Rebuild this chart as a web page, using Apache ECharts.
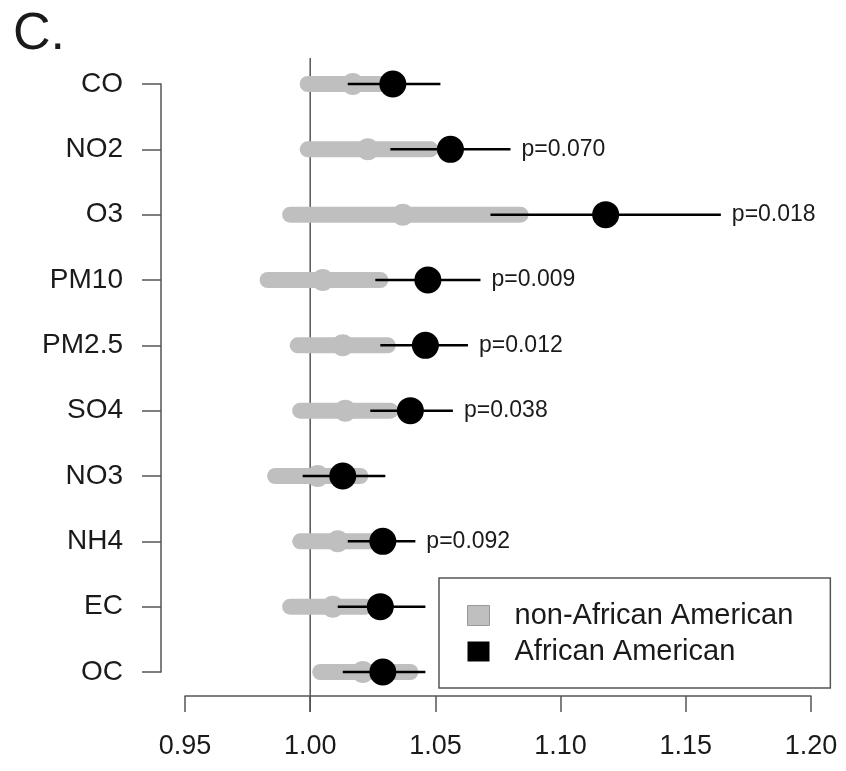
<!DOCTYPE html>
<html>
<head>
<meta charset="utf-8">
<script src="https://cdn.jsdelivr.net/npm/echarts@6/dist/echarts.min.js"></script>
<style>
  html, body { margin: 0; padding: 0; background: #fff; }
  #main { width: 846px; height: 771px; }
</style>
</head>
<body>
<div id="main"></div>
<script>
var categories = ['CO', 'NO2', 'O3', 'PM10', 'PM2.5', 'SO4', 'NO3', 'NH4', 'EC', 'OC'];
var xTicks = [0.95, 1.00, 1.05, 1.10, 1.15, 1.20];

// non-African American: estimate and CI
var nonAAEst  = [1.017, 1.023, 1.037, 1.005, 1.013, 1.014, 1.003, 1.011, 1.009, 1.021];
var nonAALow  = [0.999, 0.999, 0.992, 0.983, 0.995, 0.996, 0.986, 0.996, 0.992, 1.004];
var nonAAHigh = [1.029, 1.048, 1.084, 1.028, 1.031, 1.032, 1.020, 1.029, 1.022, 1.040];

// African American: estimate and CI
var aaEst  = [1.033, 1.056, 1.118, 1.047, 1.046, 1.040, 1.013, 1.029, 1.028, 1.029];
var aaLow  = [1.015, 1.032, 1.072, 1.026, 1.028, 1.024, 0.997, 1.015, 1.011, 1.013];
var aaHigh = [1.052, 1.080, 1.164, 1.068, 1.063, 1.057, 1.030, 1.042, 1.046, 1.046];

var pLabels = ['', 'p=0.070', 'p=0.018', 'p=0.009', 'p=0.012', 'p=0.038', '', 'p=0.092', '', ''];

var refValue = 1.00;

var FONT = '"Liberation Sans", Arial, sans-serif';
var GREY = '#bfbfbf';
var AXIS = '#555';

var greyData = categories.map(function (c, i) {
    return [i, nonAALow[i], nonAAEst[i], nonAAHigh[i]];
});
var blackData = categories.map(function (c, i) {
    return [i, aaLow[i], aaEst[i], aaHigh[i], pLabels[i]];
});

function renderGrey(params, api) {
    var i = api.value(0);
    var lo = api.coord([api.value(1), i]);
    var est = api.coord([api.value(2), i]);
    var hi = api.coord([api.value(3), i]);
    return {
        type: 'group',
        children: [{
            type: 'line',
            shape: { x1: lo[0], y1: lo[1], x2: hi[0], y2: hi[1] },
            style: { stroke: GREY, lineWidth: 16, lineCap: 'round' }
        }, {
            type: 'circle',
            shape: { cx: est[0], cy: est[1], r: 11 },
            style: { fill: GREY }
        }]
    };
}

function renderBlack(params, api) {
    var i = api.value(0);
    var lo = api.coord([api.value(1), i]);
    var est = api.coord([api.value(2), i]);
    var hi = api.coord([api.value(3), i]);
    var label = blackData[params.dataIndex][4];
    var children = [{
        type: 'line',
        shape: { x1: lo[0], y1: lo[1], x2: hi[0], y2: hi[1] },
        style: { stroke: '#000', lineWidth: 2.5 }
    }, {
        type: 'circle',
        shape: { cx: est[0], cy: est[1], r: 13.5 },
        style: { fill: '#000' }
    }];
    if (label) {
        children.push({
            type: 'text',
            x: hi[0] + 11,
            y: hi[1],
            style: {
                text: label,
                fill: '#1a1a1a',
                font: '23px ' + FONT,
                verticalAlign: 'middle',
                align: 'left'
            }
        });
    }
    return { type: 'group', children: children };
}

// vertical reference line at 1.00, running a bit past both ends of the plot
function renderRef(params, api) {
    var p = api.coord([api.value(0), 0]);
    var cs = params.coordSys;
    return {
        type: 'line',
        shape: { x1: p[0], y1: cs.y - 26, x2: p[0], y2: cs.y + cs.height + 40 },
        style: { stroke: AXIS, lineWidth: 1.5 }
    };
}

var myChart = echarts.init(document.getElementById('main'));

option = {
    backgroundColor: '#fff',
    animation: false,
    textStyle: { fontFamily: FONT },
    title: {
        text: 'C.',
        left: 8,
        top: 4,
        textStyle: { fontSize: 52, fontWeight: 'normal', color: '#1a1a1a', fontFamily: FONT }
    },
    grid: {
        left: 185,
        right: 35,
        top: 84,
        bottom: 99
    },
    legend: {
        orient: 'vertical',
        left: 439,
        top: 578,
        padding: [23, 37, 22, 28],
        itemGap: 7,
        itemWidth: 22,
        itemHeight: 20,
        borderColor: AXIS,
        borderWidth: 1.5,
        icon: 'rect',
        textStyle: { fontSize: 29, color: '#1a1a1a', padding: [0, 0, 0, 20], fontFamily: FONT },
        data: [
            { name: 'non-African American', itemStyle: { color: GREY, borderColor: '#999', borderWidth: 1 } },
            { name: 'African American', itemStyle: { color: '#000' } }
        ]
    },
    xAxis: {
        type: 'value',
        min: xTicks[0],
        max: xTicks[xTicks.length - 1],
        interval: 0.05,
        offset: 24,
        axisLine: { show: true, lineStyle: { color: AXIS, width: 1.5 } },
        axisTick: { show: true, length: 16, lineStyle: { color: AXIS, width: 1.5 } },
        splitLine: { show: false },
        axisLabel: {
            margin: 37,
            fontSize: 27,
            color: '#1a1a1a',
            fontFamily: FONT,
            formatter: function (v) { return v.toFixed(2); }
        }
    },
    yAxis: {
        type: 'category',
        data: categories,
        inverse: true,
        boundaryGap: false,
        offset: 24,
        axisLine: { show: true, lineStyle: { color: AXIS, width: 1.5 } },
        axisTick: { show: true, length: 19, lineStyle: { color: AXIS, width: 1.5 } },
        splitLine: { show: false },
        axisLabel: {
            margin: 38,
            fontSize: 28,
            color: '#1a1a1a',
            fontFamily: FONT
        }
    },
    series: [{
        name: 'ref',
        type: 'custom',
        renderItem: renderRef,
        clip: false,
        silent: true,
        data: [[refValue]],
        encode: { x: 0 },
        z: 1
    }, {
        name: 'non-African American',
        type: 'custom',
        renderItem: renderGrey,
        itemStyle: { color: GREY },
        clip: false,
        data: greyData,
        encode: { x: [1, 2, 3], y: 0 },
        z: 2
    }, {
        name: 'African American',
        type: 'custom',
        renderItem: renderBlack,
        itemStyle: { color: '#000' },
        clip: false,
        data: blackData,
        encode: { x: [1, 2, 3], y: 0 },
        z: 3
    }]
};
myChart.setOption(option);
</script>
</body>
</html>
